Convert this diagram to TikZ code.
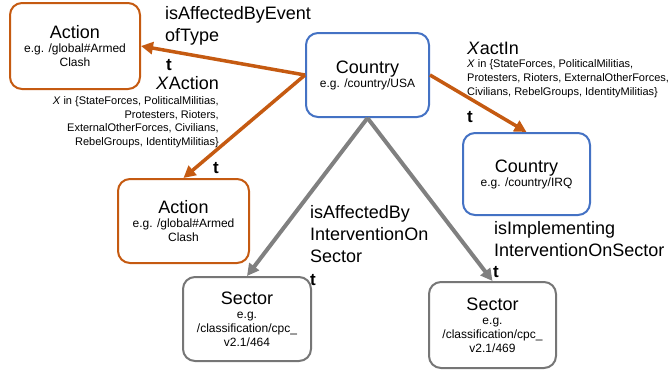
\documentclass[tikz,border=0pt]{standalone}
\usepackage{fontspec}
\setmainfont{Liberation Sans}
\usetikzlibrary{arrows.meta}
\definecolor{acorange}{RGB}{197,90,17}
\definecolor{acblue}{RGB}{68,114,196}
\definecolor{acgray}{RGB}{128,128,128}
\newcommand{\boxttl}[1]{{\fontsize{18}{22}\selectfont #1}}

\begin{document}
\begin{tikzpicture}[x=1pt,y=-1pt,
  box/.style={draw,line width=2pt,rounded corners=12pt,fill=white,align=center,
              inner sep=0pt,font=\fontsize{12}{14}\selectfont},
  actbox/.style={box,draw=acorange},
  ctrybox/.style={box,draw=acblue},
  secbox/.style={box,draw=acgray!92!black},
  arr/.style={-{Triangle[length=12pt,width=12pt]},line width=3.5pt,acorange},
  garr/.style={arr,acgray,line width=4pt},
  lab/.style={font=\fontsize{18}{22}\selectfont,inner sep=0pt,anchor=base west,align=left},
  sml/.style={font=\fontsize{11}{13.6}\selectfont,inner sep=0pt},
  tee/.style={font=\fontsize{17}{20}\selectfont\bfseries,inner sep=0pt,anchor=base west}
]
\useasboundingbox (0,0) rectangle (669,372);

% boxes
\node[actbox,minimum width=130pt,minimum height=86pt] (act1) at (75,46)
  {\boxttl{Action}\\e.g. /global\#Armed\\Clash};
\node[ctrybox,minimum width=123pt,minimum height=84pt] (usa) at (367.5,75)
  {\boxttl{Country}\\e.g. /country/USA};
\node[ctrybox,minimum width=127pt,minimum height=82pt] (irq) at (526.5,174)
  {\boxttl{Country}\\e.g. /country/IRQ};
\node[actbox,minimum width=131pt,minimum height=84pt] (act2) at (183.5,221)
  {\boxttl{Action}\\e.g. /global\#Armed\\Clash};
\node[secbox,minimum width=128pt,minimum height=84pt] (sec1) at (247,319)
  {\boxttl{Sector}\\e.g.\\/classification/cpc\_\\v2.1/464};
\node[secbox,minimum width=127pt,minimum height=86pt] (sec2) at (492.5,325)
  {\boxttl{Sector}\\e.g.\\/classification/cpc\_\\v2.1/469};

% connectors
\draw[arr] (usa.west) -- (act1.east);
\draw[arr] (usa.west) -- (act2.north);
\draw[arr] (usa.east) -- (irq.north);
\draw[garr] (usa.south) -- (sec1.north);
\draw[garr] (usa.south) -- (sec2.north);

% labels (base = last line)
\node[lab] (lblevent) at (165,41.5) {isAffectedByEvent\\ofType};
\node[tee] (tevent) at (166,70) {t};
\node[sml,anchor=base east,align=right] (lblxaction) at (219,145.5)
  {\boxttl{\textit{X}Action}\\[1.5pt]
   \textit{X} in \{StateForces, PoliticalMilitias,\\
   Protesters, Rioters,\\
   ExternalOtherForces, Civilians,\\
   RebelGroups, IdentityMilitias\}};
\node[tee] (taction) at (213,173) {t};
\node[sml,anchor=base west,align=left] (lblactin) at (467,95)
  {\boxttl{\textit{X}actIn}\\
   \textit{X} in \{StateForces, PoliticalMilitias,\\
   Protesters, Rioters, ExternalOtherForces,\\
   Civilians, RebelGroups, IdentityMilitias\}};
\node[tee] (tactin) at (467,122) {t};
\node[lab] (lblseca) at (310,262.5) {isAffectedBy\\InterventionOn\\Sector};
\node[tee] (tseca) at (310,285) {t};
\node[lab] (lblsecb) at (494,256.5) {isImplementing\\InterventionOnSector};
\node[tee] (tsecb) at (493,277) {t};

\end{tikzpicture}
\end{document}
